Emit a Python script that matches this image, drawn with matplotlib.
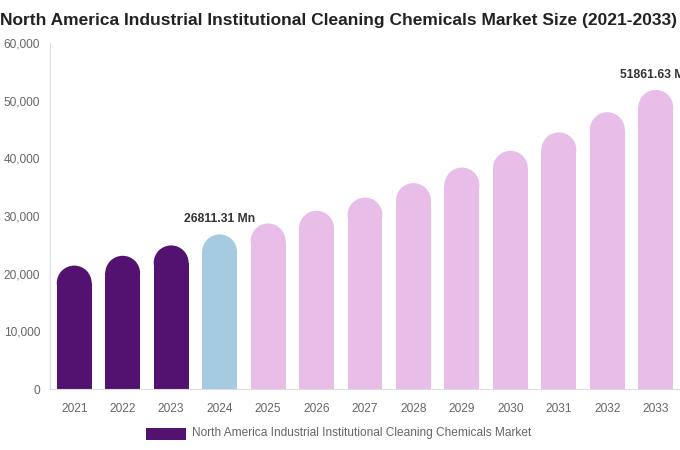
import matplotlib
matplotlib.use("Agg")
import matplotlib.pyplot as plt
from matplotlib.patches import Ellipse, Rectangle

years = ["2021", "2022", "2023", "2024", "2025", "2026", "2027", "2028", "2029", "2030", "2031", "2032", "2033"]
values = [21400, 23100, 24900, 26811.31, 28700, 30900, 33200, 35700, 38400, 41300, 44500, 48000, 51861.63]
phase = ["hist", "hist", "hist", "base", "fc", "fc", "fc", "fc", "fc", "fc", "fc", "fc", "fc"]
colors = {"hist": "#531270", "base": "#A4CBDF", "fc": "#E8BDE8"}
annotations = {3: "26811.31 Mn", 12: "51861.63 Mn"}
yticks = [0, 10000, 20000, 30000, 40000, 50000, 60000]
title = "North America Industrial Institutional Cleaning Chemicals Market Size (2021-2033)"
legend_label = "North America Industrial Institutional Cleaning Chemicals Market"

FONT = "Liberation Sans"
plt.rcParams["font.family"] = [FONT, "DejaVu Sans"]

W, H = 680, 450
fig = plt.figure(figsize=(W / 100, H / 100), dpi=100)
left, right, bottom, top = 50, 680, 389, 43
ax = fig.add_axes([left / W, 1 - bottom / H, (right - left) / W, (bottom - top) / H])
ax.set_xlim(-0.5, len(years) - 0.5)
ax.set_ylim(0, 60000)

bw = 0.72
px_per_x = (right - left) / len(years)
px_per_y = (bottom - top) / 60000
r_px = bw * px_per_x / 2
r_data = r_px / px_per_y

for i, (v, p) in enumerate(zip(values, phase)):
    c = colors[p]
    ax.bar(i, v - r_data, width=bw, color=c, edgecolor="none", zorder=2)
    ax.add_patch(Ellipse((i, v - r_data), bw, 2 * r_data, facecolor=c, edgecolor="none", zorder=2))

for i, txt in annotations.items():
    ax.annotate(txt, (i, values[i]), xytext=(0, 6.5), textcoords="offset points",
                ha="center", va="bottom", fontsize=8.7, fontweight="bold", color="#333333",
                annotation_clip=False)

ax.set_xticks(range(len(years)))
ax.set_xticklabels(years)
ax.set_yticks(yticks)
ax.set_yticklabels([f"{t:,}" for t in yticks])
ax.tick_params(axis="both", length=0, labelsize=8.6, labelcolor="#666666")
ax.tick_params(axis="x", pad=10)
ax.tick_params(axis="y", pad=7.2)
for s in ["top", "right"]:
    ax.spines[s].set_visible(False)
ax.spines["left"].set_color("#dddddd")
ax.spines["bottom"].set_color("#dddddd")

t = fig.text(0.5 / W, 1 - 21 / H, title, ha="left", va="center", fontsize=12.5,
             fontweight="bold", color="#222222")
fig.canvas.draw()
wpx = t.get_window_extent().width
t.set_fontsize(12.5 * 679 / wpx)

fig.patches.append(Rectangle((146 / W, 1 - 440 / H), 40 / W, 12 / H, transform=fig.transFigure,
                             facecolor=colors["hist"], edgecolor="none"))
fig.text(192 / W, 1 - 433 / H, legend_label, ha="left", va="center", fontsize=8.6,
         color="#666666")

fig.savefig("out.png", dpi=100)
